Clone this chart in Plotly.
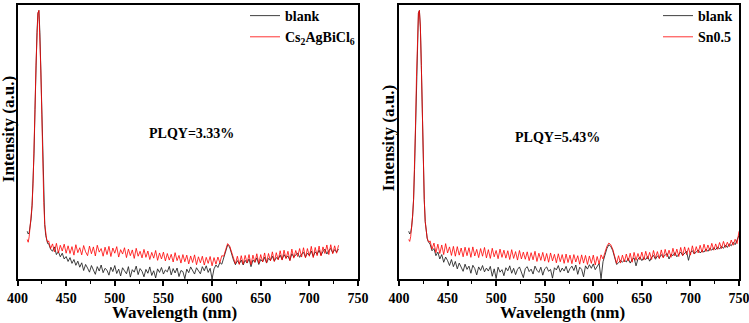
import plotly.graph_objects as go

# ---------------- DATA ----------------
peak_x = list(range(410, 432))  # 410..431 nm, 1 nm step
left_x = peak_x + list(range(432, 731, 2))
right_x = peak_x + list(range(432, 751, 2))

left_red_peak = [14.5, 13.5, 15.5, 19, 22, 27, 35, 46, 62, 78, 90, 97, 98, 90, 76, 60, 42, 28, 20, 16, 14.5, 13.5]
left_blk_peak = [17.5, 16.5, 17.0, 19, 22, 27, 35, 46, 62, 78, 90, 97, 98, 90, 76, 60, 42, 28, 20, 16, 14.0, 13.0]

left_red_tail = [
    14.0, 11.2, 12.9, 10.0, 13.1, 9.6, 12.4, 10.3, 12.8, 9.5,
    12.2, 9.4, 11.9, 8.8, 12.6, 9.7, 11.5, 8.9, 12.3, 10.0,
    8.6, 12.1, 9.3, 11.8, 8.5, 12.4, 9.9, 11.2, 8.4, 11.7,
    9.0, 12.0, 8.3, 11.4, 9.5, 11.9, 8.1, 10.8, 9.2, 11.5,
    7.9, 11.0, 8.6, 10.7, 7.6, 11.3, 8.4, 10.2, 7.8, 10.9,
    8.0, 10.3, 7.2, 9.8, 7.7, 10.5, 6.9, 9.6, 7.4, 9.9,
    6.7, 9.4, 7.0, 9.1, 6.3, 9.7, 6.8, 8.7, 5.9, 9.0,
    6.4, 8.8, 5.6, 8.5, 6.1, 8.9, 5.3, 8.2, 6.0, 8.4,
    5.2, 8.0, 5.8, 8.3, 4.9, 7.9, 5.5, 8.1, 6.0, 8.6,
    8.4, 10.8, 13.0, 12.2, 10.0, 7.2, 5.6, 8.4, 5.4, 8.6,
    5.5, 8.7, 6.0, 9.0, 5.3, 8.8, 6.2, 9.3, 5.8, 9.0,
    6.3, 9.6, 6.0, 9.4, 6.7, 10.0, 6.5, 9.7, 7.1, 10.4,
    7.0, 10.6, 7.5, 10.2, 6.8, 11.0, 7.7, 10.5, 8.3, 11.2,
    8.1, 11.5, 7.8, 11.2, 8.4, 12.0, 7.9, 11.6, 8.6, 12.1,
    8.5, 11.8, 9.4, 12.5, 9.0, 12.6, 9.3, 12.2, 9.5, 12.4,
]
left_blk_tail = [
    13.0, 11.0, 10.2, 11.8, 9.0, 10.1, 8.2, 9.5, 7.4, 8.3,
    6.5, 7.9, 5.8, 7.2, 5.1, 6.6, 4.4, 6.0, 3.2, 5.4,
    4.1, 2.6, 5.0, 3.5, 1.8, 4.6, 3.0, 5.2, 2.4, 4.0,
    3.3, 1.5, 4.4, 2.8, 5.0, 2.1, 3.7, 1.2, 4.2, 3.1,
    2.0, 4.6, 0.8, 3.5, 2.6, 4.8, 1.7, 3.9, 2.9, 0.9,
    3.6, 2.2, 4.5, 1.4, 3.1, 0.5, 3.8, 2.5, 4.3, 1.9,
    3.4, 2.7, 4.7, 1.6, 3.9, 2.3, 4.1, 1.0, 3.2, 2.8,
    0.2, 3.7, 2.4, 4.5, 3.0, 1.9, 4.2, 3.3, 2.0, 4.6,
    3.1, 4.9, 2.5, 4.0, 0.1, 3.8, 5.2, 4.3, 6.1, 5.5,
    7.6, 10.2, 12.5, 11.8, 9.2, 7.0, 5.3, 6.8, 5.6, 7.0,
    5.2, 6.9, 5.9, 7.4, 4.6, 7.0, 6.2, 7.8, 5.4, 7.2,
    6.4, 8.0, 5.9, 7.6, 6.9, 8.4, 6.6, 7.9, 7.3, 8.8,
    7.2, 9.0, 7.8, 8.5, 6.9, 9.3, 8.1, 8.8, 9.6, 8.0,
    9.2, 9.8, 8.1, 9.5, 8.7, 10.3, 8.3, 10.0, 9.1, 10.6,
    8.8, 10.1, 11.0, 9.2, 10.5, 11.2, 9.6, 10.8, 9.9, 11.0,
]

right_red_peak = [14.5, 13.8, 15.5, 19, 23, 29, 40, 56, 74, 89, 97, 98, 92, 78, 60, 42, 29, 21, 17, 15, 14, 13.5]
right_blk_peak = [17.5, 16.5, 17.0, 19, 23, 29, 40, 56, 74, 89, 97, 98, 92, 78, 60, 42, 29, 21, 17, 15, 13.8, 13.0]

right_red_tail = [
    14.0, 11.0, 13.2, 9.7, 12.8, 9.4, 12.5, 9.0, 13.0, 9.6,
    11.8, 8.7, 12.0, 8.4, 11.9, 8.8, 11.4, 8.2, 11.7, 8.6,
    11.5, 8.0, 11.8, 8.5, 10.9, 7.9, 11.2, 8.4, 11.6, 7.8,
    10.8, 7.6, 11.3, 8.2, 10.5, 7.5, 11.0, 8.0, 10.6, 7.7,
    10.4, 7.2, 10.8, 7.6, 10.1, 7.0, 10.5, 7.4, 9.9, 7.3,
    10.0, 6.8, 9.7, 7.1, 10.2, 6.5, 9.5, 6.9, 9.8, 6.6,
    9.4, 6.2, 9.6, 6.7, 9.1, 6.0, 9.3, 6.4, 9.0, 5.8,
    9.2, 6.1, 8.8, 5.7, 9.0, 6.3, 8.6, 5.5, 8.9, 5.9,
    8.7, 5.4, 8.5, 5.8, 8.8, 5.2, 8.3, 5.6, 8.9, 7.4,
    9.8, 12.0, 13.2, 12.6, 11.0, 8.2, 5.8, 8.6, 5.9, 8.8,
    6.3, 9.2, 6.6, 9.5, 6.2, 9.8, 6.9, 9.4, 7.1, 9.9,
    7.0, 10.2, 7.4, 9.8, 7.2, 10.5, 7.7, 10.1, 7.5, 10.7,
    7.8, 10.9, 8.2, 10.6, 8.0, 11.3, 8.5, 11.0, 8.3, 11.6,
    8.6, 11.8, 9.0, 11.5, 8.8, 12.2, 9.3, 11.9, 9.6, 12.4,
    9.8, 12.8, 10.1, 12.5, 10.4, 13.1, 10.6, 12.9, 10.9, 13.4,
    11.2, 13.8, 11.6, 13.5, 11.9, 14.3, 12.4, 14.6, 13.0, 17.5,
]
right_blk_tail = [
    12.8, 10.4, 11.2, 8.6, 9.9, 7.4, 9.0, 6.2, 8.1, 6.8,
    5.0, 7.2, 4.6, 6.5, 3.8, 5.9, 4.3, 2.9, 5.5, 3.6,
    4.8, 2.2, 5.1, 3.9, 1.6, 4.5, 3.2, 5.0, 2.7, 4.1,
    3.0, 4.7, 1.1, 3.8, 0.3, 4.4, 2.6, 3.5, 1.3, 4.2,
    3.1, 4.9, 2.2, 4.0, 1.7, 3.6, 4.5, 2.4, 0.6, 3.9,
    4.6, 2.8, 3.7, 1.9, 4.8, 3.3, 2.5, 4.4, 1.5, 3.8,
    4.5, 2.9, 3.6, 0.4, 4.2, 3.4, 5.0, 2.6, 4.1, 3.0,
    4.7, 2.3, 3.9, 4.8, 3.2, 5.2, 1.8, 4.4, 3.6, 0.9,
    4.9, 3.7, 5.3, 4.0, 5.6, 3.5, 4.8, 5.8, 0.2, 6.4,
    8.8, 11.2, 12.6, 12.0, 10.5, 7.8, 5.4, 6.0, 6.9, 6.2,
    7.0, 6.3, 7.6, 5.9, 7.2, 7.8, 4.9, 7.4, 8.1, 6.8,
    7.9, 7.2, 8.3, 6.6, 8.0, 8.7, 7.3, 8.5, 7.8, 9.0,
    8.1, 8.8, 9.4, 7.4, 9.1, 8.6, 9.7, 8.2, 9.3, 9.9,
    8.7, 9.5, 10.2, 6.9, 9.8, 10.4, 9.2, 10.0, 10.7, 9.6,
    10.4, 9.9, 11.0, 10.2, 11.3, 10.6, 11.5, 10.8, 11.8, 11.0,
    12.0, 11.3, 12.5, 11.6, 12.9, 12.2, 13.5, 12.6, 14.1, 16.0,
]

left_red = left_red_peak + left_red_tail
left_blk = left_blk_peak + left_blk_tail
right_red = right_red_peak + right_red_tail
right_blk = right_blk_peak + right_blk_tail

left_sample = "Cs<sub>2</sub>AgBiCl<sub>6</sub>"
right_sample = "Sn0.5"
plqy_labels = ["PLQY=3.33%", "PLQY=5.43%"]
x_ticks = [400, 450, 500, 550, 600, 650, 700, 750]

# ---------------- STYLE ----------------
W, H = 749, 323
FONT = "Liberation Serif"
BLACK = "rgba(30,30,30,0.85)"
RED = "rgba(255,0,0,0.8)"

fig = go.Figure()
fig.add_trace(go.Scatter(x=left_x, y=left_blk, mode="lines", name="blank",
                         line=dict(color=BLACK, width=1), xaxis="x", yaxis="y", legend="legend"))
fig.add_trace(go.Scatter(x=left_x, y=left_red, mode="lines", name=left_sample,
                         line=dict(color=RED, width=1), xaxis="x", yaxis="y", legend="legend"))
fig.add_trace(go.Scatter(x=right_x, y=right_blk, mode="lines", name="blank",
                         line=dict(color=BLACK, width=1), xaxis="x2", yaxis="y2", legend="legend2"))
fig.add_trace(go.Scatter(x=right_x, y=right_red, mode="lines", name=right_sample,
                         line=dict(color=RED, width=1), xaxis="x2", yaxis="y2", legend="legend2"))

ydom = [(H - 279) / H, (H - 3) / H]

def xaxis(dom, anchor):
    return dict(domain=dom, anchor=anchor, range=[400, 750], tickvals=x_ticks,
                ticks="outside", ticklen=5, tickwidth=1.5, tickcolor="black",
                minor=dict(dtick=25, tick0=400, ticks="outside", ticklen=3, tickwidth=1.2, tickcolor="black"),
                showline=True, linecolor="black", linewidth=1.5, mirror=True,
                showgrid=False, zeroline=False, automargin=False, ticklabeloverflow="allow",
                tickfont=dict(family=FONT, size=14, color="black", weight="bold"))

def yaxis(anchor):
    return dict(domain=ydom, anchor=anchor, range=[0, 100], showticklabels=False, ticks="",
                showline=True, linecolor="black", linewidth=1.5, mirror=True,
                showgrid=False, zeroline=False, automargin=False)

legfont = dict(family=FONT, size=14, color="black", weight="bold")
fig.update_layout(
    width=W, height=H, margin=dict(l=0, r=0, t=0, b=0),
    paper_bgcolor="white", plot_bgcolor="white",
    xaxis=xaxis([17.5 / W, 358 / W], "y"),
    yaxis=yaxis("x"),
    xaxis2=xaxis([399 / W, 739 / W], "y2"),
    yaxis2=yaxis("x2"),
    legend=dict(x=245 / W, y=(H + 2) / H, xanchor="left", yanchor="top", font=legfont,
                bgcolor="rgba(0,0,0,0)", tracegroupgap=0, itemwidth=30),
    legend2=dict(x=658 / W, y=(H + 2) / H, xanchor="left", yanchor="top", font=legfont,
                 bgcolor="rgba(0,0,0,0)", tracegroupgap=0, itemwidth=30),
    showlegend=True,
)

def ann(text, x, y, size, angle=0):
    fig.add_annotation(text=text, x=x / W, y=(H - y) / H, xref="paper", yref="paper",
                       showarrow=False, textangle=angle, xanchor="center", yanchor="middle",
                       font=dict(family=FONT, size=size, color="black", weight="bold"))

ann("Wavelength (nm)", 174, 312, 17)
ann("Wavelength (nm)", 562, 312, 17)
ann("Intensity (a.u.)", 8, 128, 17, -90)
ann("Intensity (a.u.)", 388, 137, 17, -90)
ann(plqy_labels[0], 191.5, 132, 14)
ann(plqy_labels[1], 557.5, 136, 14)

fig.write_html("out.html", config={"displayModeBar": False},
               post_script="document.body.style.margin='0';document.body.style.overflow='hidden';")
